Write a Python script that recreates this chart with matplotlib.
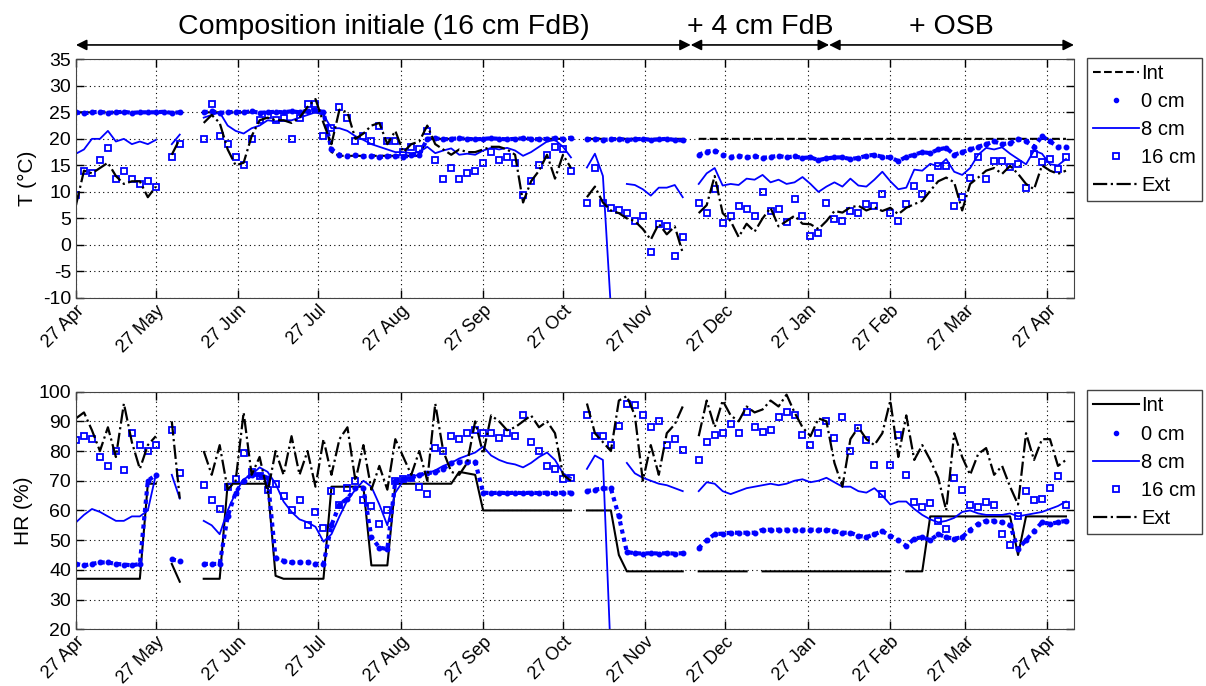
import numpy as np
import matplotlib.pyplot as plt
import matplotlib.dates as mdates
import matplotlib.transforms as mtransforms

plt.rcParams['font.family'] = ['Liberation Sans', 'DejaVu Sans']
plt.rcParams['axes.unicode_minus'] = False

nan = np.nan

# one sample every 3 days, starting 27 Apr
start = np.datetime64('2010-04-27')
days = np.arange(0, 375, 3)
dates = start + days.astype('timedelta64[D]')

# ---------------- temperature (deg C) ----------------
T_int = [25.0, 25.0, 25.0, 25.0, 25.0, 25.0, 25.0, 25.0, 25.0, 25.0,
         25.0, 25.0, 25.0, 25.0, nan, nan, 25.0, 25.0, 25.0, 25.0,
         25.0, 25.0, 25.0, 25.0, 25.0, 25.0, 25.0, 25.0, 25.0, 25.0,
         25.0, 25.0, 17.5, 16.8, 16.8, 16.8, 16.8, 16.8, 16.8, 16.8,
         16.8, 16.8, 16.8, 16.8, 20.0, 20.0, 20.0, 20.0, 20.0, 20.0,
         20.0, 20.0, 20.0, 20.0, 20.0, 20.0, 20.0, 20.0, 20.0, 20.0,
         20.0, 20.0, 20.0, nan, 20.0, 20.0, 20.0, 20.0, 20.0, 20.0,
         20.0, 20.0, 20.0, 20.0, 20.0, 20.0, 20.0, nan, 20.0, 20.0,
         20.0, 20.0, 20.0, 20.0, 20.0, 20.0, 20.0, 20.0, 20.0, 20.0,
         20.0, 20.0, 20.0, 20.0, 20.0, 20.0, 20.0, 20.0, 20.0, 20.0,
         20.0, 20.0, 20.0, 20.0, 20.0, 20.0, 20.0, 20.0, 20.0, 20.0,
         20.0, 20.0, 20.0, 20.0, 20.0, 20.0, 20.0, 20.0, 20.0, 20.0,
         20.0, 20.0, 20.0, 20.0, 20.0]

T_0cm = [25.0, 24.8, 25.0, 25.1, 24.9, 25.0, 25.1, 24.9, 25.0, 25.0,
         25.0, 25.1, 24.9, 25.0, nan, nan, 25.0, 25.2, 24.9, 25.0,
         25.1, 25.0, 25.2, 24.9, 25.0, 25.1, 25.0, 25.2, 25.0, 25.3,
         25.5, 25.0, 18.0, 17.0, 16.8, 16.9, 16.7, 16.8, 16.6, 16.7,
         16.8, 16.6, 16.9, 17.0, 20.0, 20.1, 19.9, 20.0, 20.1, 20.0,
         19.9, 20.0, 20.1, 20.0, 19.9, 20.0, 20.1, 20.0, 19.9, 20.0,
         20.1, 20.0, 20.2, nan, 19.9, 20.0, 19.8, 19.9, 20.0, 19.8,
         19.9, 20.0, 19.8, 19.9, 20.0, 19.8, 19.7, nan, 17.0, 17.6,
         17.8, 17.0, 16.6, 16.8, 16.5, 16.7, 16.4, 16.6, 16.8, 16.5,
         16.7, 16.4, 16.5, 16.0, 16.3, 16.5, 16.5, 16.2, 16.4, 16.8,
         17.0, 16.6, 16.5, 15.8, 16.6, 17.0, 17.5, 17.3, 18.0, 18.3,
         17.0, 17.5, 18.0, 18.5, 19.0, 19.5, 19.0, 19.2, 20.0, 19.5,
         18.5, 20.5, 19.5, 18.5, 18.5]

T_8cm = [17.2, 18.0, 20.0, 20.0, 21.5, 19.5, 20.0, 19.0, 19.5, 19.0,
         19.8, nan, 19.0, 20.8, nan, nan, 24.0, 24.5, 25.0, 22.5,
         21.5, 21.0, 22.0, 22.5, 23.5, 23.3, 23.5, 23.5, 24.0, 24.5,
         25.0, 24.5, 22.0, 22.0, 21.5, 20.5, 19.8, 19.0, 18.5, 18.0,
         17.5, 17.5, 17.3, 17.5, 18.5, 17.3, 17.8, 18.2, 17.0, 17.2,
         17.0, 17.8, 18.3, 18.0, 18.3, 17.8, 16.8, 17.5, 18.5, 19.5,
         19.8, 18.5, 16.5, nan, 14.6, 17.2, 13.0, -12.0, nan, 11.5,
         11.3, 10.5, 9.3, 10.8, 10.8, 11.3, 9.0, nan, 11.5, 13.5,
         14.5, 11.2, 11.5, 11.3, 12.5, 12.3, 13.2, 11.8, 12.3, 11.5,
         11.8, 12.8, 11.5, 10.0, 11.0, 11.8, 11.0, 12.5, 11.2, 11.0,
         12.3, 13.8, 12.0, 10.5, 10.8, 14.2, 14.0, 15.3, 14.8, 16.2,
         13.8, 13.2, 14.5, 17.0, 18.3, 18.0, 18.4, 17.2, 16.2, 15.2,
         17.8, 17.2, 15.2, 15.0, 16.2]

T_16cm = [9.5, 14.0, 13.5, 16.0, 18.2, 12.5, 14.0, 12.5, 11.5, 12.0,
          11.0, nan, 16.5, 19.0, nan, nan, 20.0, 26.5, 20.5, 19.0,
          16.5, 15.0, 20.0, 23.5, 24.5, 23.5, 24.0, 20.0, 24.0, 26.5,
          26.5, 20.5, 22.0, 26.0, 24.0, 19.5, 20.5, 19.5, 22.5, 19.5,
          19.5, 17.5, 18.5, 18.0, 21.5, 16.0, 12.5, 14.5, 12.5, 13.5,
          14.0, 15.5, 17.5, 16.0, 16.5, 15.5, 9.5, 12.0, 15.0, 17.0,
          18.5, 18.0, 14.0, nan, 8.0, 14.5, 8.0, 7.0, 6.5, 6.0,
          4.5, 5.5, -1.4, 4.0, 3.5, -2.0, 1.5, nan, 8.0, 6.0,
          10.5, 4.2, 5.5, 7.4, 6.8, 5.5, 9.9, 6.4, 6.8, 4.4,
          8.6, 5.5, 1.7, 2.2, 8.0, 4.9, 4.6, 6.4, 6.1, 7.7,
          7.4, 9.6, 6.1, 4.6, 7.7, 11.2, 9.6, 12.7, 14.9, 14.9,
          7.4, 9.0, 12.7, 16.5, 12.4, 15.9, 15.9, 14.6, 15.3, 10.8,
          17.1, 15.6, 16.2, 14.3, 16.5]

T_ext = [7.5, 14.0, 13.5, 14.5, 15.5, 13.0, 11.5, 12.0, 12.0, 9.0,
         11.0, nan, 17.0, 20.0, nan, nan, 23.0, 24.5, 23.0, 18.0,
         15.0, 15.5, 20.5, 23.5, 24.0, 23.5, 23.5, 23.0, 24.0, 26.0,
         27.5, 23.0, 19.0, 25.5, 25.0, 20.0, 21.0, 22.5, 23.0, 19.0,
         21.5, 17.5, 19.0, 19.5, 22.5, 19.0, 18.0, 17.0, 18.0, 17.5,
         17.5, 18.0, 18.5, 18.5, 18.0, 17.0, 8.0, 12.0, 14.0, 17.0,
         12.5, 17.0, 14.5, nan, 9.0, 11.0, 8.0, 6.5, 6.0, 5.0,
         4.5, 3.0, 1.0, 4.0, 2.0, 3.5, -1.5, nan, 6.0, 7.5,
         13.0, 6.0, 4.5, 1.5, 4.0, 2.5, 5.0, 7.0, 3.5, 4.5,
         5.5, 4.0, 3.9, 3.0, 4.5, 6.4, 6.1, 7.1, 7.4, 6.5,
         7.1, 6.4, 7.0, 5.8, 7.0, 7.7, 8.3, 10.2, 12.0, 12.7,
         11.8, 6.5, 11.5, 12.7, 14.0, 14.5, 13.4, 14.9, 13.4, 11.5,
         10.5, 15.0, 14.0, 13.4, 14.0]

# ---------------- relative humidity (%) ----------------
HR_int = [37.0, 37.0, 37.0, 37.0, 37.0, 37.0, 37.0, 37.0, 37.0, 69.0,
          69.0, nan, 42.0, 36.0, nan, nan, 37.0, 37.0, 37.0, 69.0,
          69.0, 69.0, 69.0, 69.0, 69.0, 38.0, 37.0, 37.0, 37.0, 37.0,
          37.0, 37.0, 68.0, 68.0, 68.0, 68.0, 68.0, 41.5, 41.5, 41.5,
          69.0, 69.0, 69.0, 69.0, 69.0, 69.0, 69.0, 69.0, 73.0, 72.5,
          72.0, 60.0, 60.0, 60.0, 60.0, 60.0, 60.0, 60.0, 60.0, 60.0,
          60.0, 60.0, 60.0, nan, 60.0, 60.0, 60.0, 60.0, 45.0, 39.5,
          39.5, 39.5, 39.5, 39.5, 39.5, 39.5, 39.5, nan, 39.5, 39.5,
          39.5, 39.5, 39.5, 39.5, 39.5, nan, 39.5, 39.5, 39.5, 39.5,
          39.5, 39.5, 39.5, 39.5, 39.5, 39.5, 39.5, 39.5, 39.5, 39.5,
          39.5, 39.5, 39.5, nan, 39.5, 39.5, 39.5, 58.0, 58.0, 58.0,
          58.0, 58.0, 58.0, 58.0, 58.0, 58.0, 58.0, 58.0, 45.0, 58.0,
          58.0, 58.0, 58.0, 58.0, 58.0]

HR_0cm = [42.0, 41.5, 42.0, 42.5, 42.5, 42.0, 41.8, 41.5, 42.0, 70.0,
          72.0, nan, 43.5, 43.0, nan, nan, 42.0, 42.0, 42.0, 58.0,
          66.0, 70.0, 72.0, 72.0, 71.0, 44.0, 43.0, 42.5, 42.5, 42.5,
          42.0, 42.0, 55.0, 62.0, 64.0, 67.5, 67.5, 51.0, 47.5, 47.0,
          70.0, 70.5, 71.0, 72.0, 72.5, 73.0, 74.0, 76.0, 76.4, 76.4,
          76.4, 66.0, 65.8, 66.0, 65.8, 66.0, 65.8, 66.0, 65.8, 66.0,
          65.8, 66.0, 66.0, nan, 66.5, 67.0, 67.4, 67.4, 58.0, 46.0,
          45.6, 45.5, 45.6, 45.5, 45.6, 45.5, 45.6, nan, 47.3, 50.0,
          52.0, 52.2, 52.5, 52.5, 52.5, 52.5, 53.5, 53.5, 53.5, 53.5,
          53.5, 53.5, 53.5, 53.5, 53.5, 53.0, 52.5, 52.5, 51.5, 51.0,
          52.0, 53.0, 51.5, 50.0, 48.0, 50.5, 51.0, 50.0, 52.0, 51.0,
          50.5, 51.0, 53.5, 55.5, 56.5, 56.5, 56.0, 55.0, 47.0, 50.0,
          53.0, 56.0, 55.5, 56.0, 56.5]

HR_8cm = [56.0, 58.5, 60.5, 59.5, 58.0, 56.5, 56.5, 58.0, 58.0, 60.0,
          72.0, nan, 72.0, 64.0, nan, nan, 56.5, 55.0, 52.0, 60.0,
          66.0, 70.5, 72.0, 74.5, 73.0, 69.0, 63.0, 59.5, 57.0, 56.0,
          54.5, 49.5, 52.0, 58.0, 63.5, 67.0, 70.0, 68.0, 62.0, 55.0,
          66.0, 70.0, 71.5, 72.0, 72.5, 73.5, 75.0, 76.0, 77.5, 78.5,
          79.5, 81.5, 78.5, 77.0, 76.0, 75.5, 74.5, 76.0, 78.0, 79.5,
          77.0, 72.5, 71.0, nan, 74.0, 78.5, 77.0, 10.0, nan, 76.0,
          72.5, 71.0, 70.0, 69.0, 68.5, 67.5, 66.5, nan, 66.5, 69.5,
          69.0, 66.5, 65.5, 66.5, 67.5, 68.0, 68.5, 69.0, 68.5, 69.0,
          70.0, 70.5, 69.5, 70.0, 71.0, 69.5, 68.0, 68.0, 66.5, 66.0,
          67.5, 65.0, 62.0, 63.0, 63.0, 60.5, 58.5, 57.0, 56.0, 56.5,
          57.5, 59.5, 60.0, 59.0, 58.5, 58.5, 58.5, 59.0, 58.0, 58.5,
          59.0, 59.5, 60.5, 61.5, 63.0]

HR_16cm = [83.7, 85.0, 84.0, 78.0, 75.0, 80.0, 73.5, 86.0, 82.0, 80.0,
           82.0, nan, 87.0, 72.5, nan, nan, 68.5, 63.5, 60.5, 68.0,
           70.5, 79.5, 73.0, 71.5, 67.0, 69.0, 65.0, 60.0, 63.5, 55.0,
           59.5, 54.0, 66.5, 62.0, 67.5, 70.0, 63.5, 61.5, 55.5, 60.0,
           70.0, 70.5, 71.0, 68.0, 65.7, 81.0, 80.0, 85.0, 84.0, 86.0,
           87.0, 86.0, 86.0, 84.5, 86.0, 85.0, 92.0, 83.0, 80.0, 75.0,
           74.0, 70.5, 71.0, nan, 92.0, 85.0, 85.0, 82.0, 88.5, 96.0,
           95.5, 92.0, 88.0, 90.0, 82.0, 84.0, 80.3, nan, 77.0, 83.0,
           85.5, 86.0, 89.0, 86.0, 93.0, 88.0, 86.5, 87.0, 91.5, 93.3,
           92.0, 85.5, 82.0, 86.0, 90.0, 84.3, 91.6, 80.0, 87.6, 83.7,
           75.3, 65.5, 75.3, 85.4, 72.0, 63.0, 61.0, 62.4, 56.5, 53.9,
           70.8, 67.0, 62.0, 61.2, 62.9, 61.8, 52.0, 48.5, 58.0, 66.5,
           63.5, 64.0, 67.4, 71.5, 62.0]

HR_ext = [91.0, 93.0, 87.0, 80.0, 88.0, 78.0, 96.0, 83.0, 74.0, 82.0,
          85.0, nan, 90.0, 64.0, nan, nan, 80.0, 72.0, 82.0, 67.0,
          70.0, 93.0, 72.0, 78.0, 66.0, 80.0, 72.0, 85.0, 72.0, 80.0,
          68.0, 84.0, 72.0, 84.0, 88.0, 70.0, 82.0, 67.0, 75.0, 67.0,
          84.0, 78.0, 72.0, 80.0, 70.0, 96.0, 80.0, 73.0, 72.0, 76.0,
          90.0, 79.0, 92.0, 90.0, 87.0, 88.0, 90.0, 92.0, 88.0, 90.0,
          86.0, 72.0, 70.0, nan, 96.0, 86.0, 83.0, 80.0, 97.0, 98.5,
          92.0, 70.0, 82.0, 72.0, 86.0, 89.0, 95.0, nan, 85.0, 97.0,
          88.0, 97.0, 92.0, 90.0, 95.0, 93.0, 94.0, 97.0, 95.0, 99.0,
          93.0, 88.0, 85.0, 91.0, 90.0, 76.0, 68.0, 84.0, 88.0, 84.0,
          82.0, 86.0, 97.0, 78.0, 92.0, 77.0, 82.0, 77.0, 71.0, 60.0,
          86.0, 78.0, 72.0, 79.0, 81.0, 72.0, 75.0, 68.0, 62.0, 86.0,
          77.0, 84.0, 84.0, 75.0, 77.0]

phase_dates = ['2010-04-27', '2010-12-14', '2011-02-04', '2011-05-07']
phase_labels = ['Composition initiale (16 cm FdB)', '+ 4 cm FdB', '+ OSB']

blue = '#0000ff'

fig = plt.figure(figsize=(12.06, 6.86), dpi=100)
ax1 = fig.add_axes([0.063, 0.5656, 0.8275, 0.348])
ax2 = fig.add_axes([0.063, 0.0827, 0.8275, 0.3464])


def draw(ax, s_int, s0, s8, s16, sext, int_style):
    ax.plot(dates, s_int, color='k', linestyle=int_style, lw=1.5, label='Int')
    ax.plot(dates, s0, color=blue, linestyle=(0, (1, 1)), lw=3, marker='.',
            markersize=6.5, label='0 cm')
    ax.plot(dates, s8, color=blue, lw=1.3, label='8 cm')
    ax.plot(dates, s16, color=blue, linestyle='none', marker='s',
            markersize=4.5, mfc='none', mew=1.3, label='16 cm')
    ax.plot(dates, sext, color='k', linestyle='-.', lw=1.6, label='Ext')

    ax.set_xlim(start, start + np.timedelta64(375, 'D'))
    ax.xaxis.set_major_locator(mdates.MonthLocator(bymonthday=27))
    ax.xaxis.set_major_formatter(mdates.DateFormatter('%d %b'))
    for lab in ax.get_xticklabels():
        lab.set_rotation(45)
        lab.set_ha('right')
        lab.set_rotation_mode('anchor')
    ax.tick_params(direction='in', top=True, right=True, length=6,
                   labelsize=14, width=1)
    ax.tick_params(axis='x', labelsize=13, pad=3)
    ax.grid(True, linestyle=(0, (1, 3)), color='k', lw=0.8)
    for sp in ax.spines.values():
        sp.set_color('#444444')

    leg = ax.legend(loc='upper left', bbox_to_anchor=(1.013, 1.005),
                    fontsize=14.5, frameon=True, fancybox=False,
                    edgecolor='#444444', framealpha=1, handlelength=2.3,
                    handletextpad=0.1, labelspacing=0.45, borderpad=0.3,
                    borderaxespad=0)
    leg.legend_handles[1].set_linestyle('none')
    leg.legend_handles[1].set_markersize(6)


draw(ax1, T_int, T_0cm, T_8cm, T_16cm, T_ext, '--')
ax1.set_ylim(-10, 35)
ax1.set_yticks(range(-10, 36, 5))
ax1.set_ylabel('T (°C)', fontsize=15)

draw(ax2, HR_int, HR_0cm, HR_8cm, HR_16cm, HR_ext, '-')
ax2.set_ylim(20, 100)
ax2.set_yticks(range(20, 101, 10))
ax2.set_ylabel('HR (%)', fontsize=15)

# phases of the wall composition above the top panel
trans = mtransforms.blended_transform_factory(ax1.transData, ax1.transAxes)
for a, b, lab in zip(phase_dates[:-1], phase_dates[1:], phase_labels):
    xa = mdates.date2num(np.datetime64(a))
    xb = mdates.date2num(np.datetime64(b))
    ax1.annotate('', xy=(xb, 1.06), xytext=(xa, 1.06), xycoords=trans,
                 textcoords=trans, annotation_clip=False,
                 arrowprops=dict(arrowstyle='<|-|>', color='k', lw=1.2,
                                 mutation_scale=16, shrinkA=0, shrinkB=0))
    ax1.text((xa + xb) / 2, 1.08, lab, transform=trans, ha='center',
             va='bottom', fontsize=20.5)

fig.savefig('out.png', dpi=100)
